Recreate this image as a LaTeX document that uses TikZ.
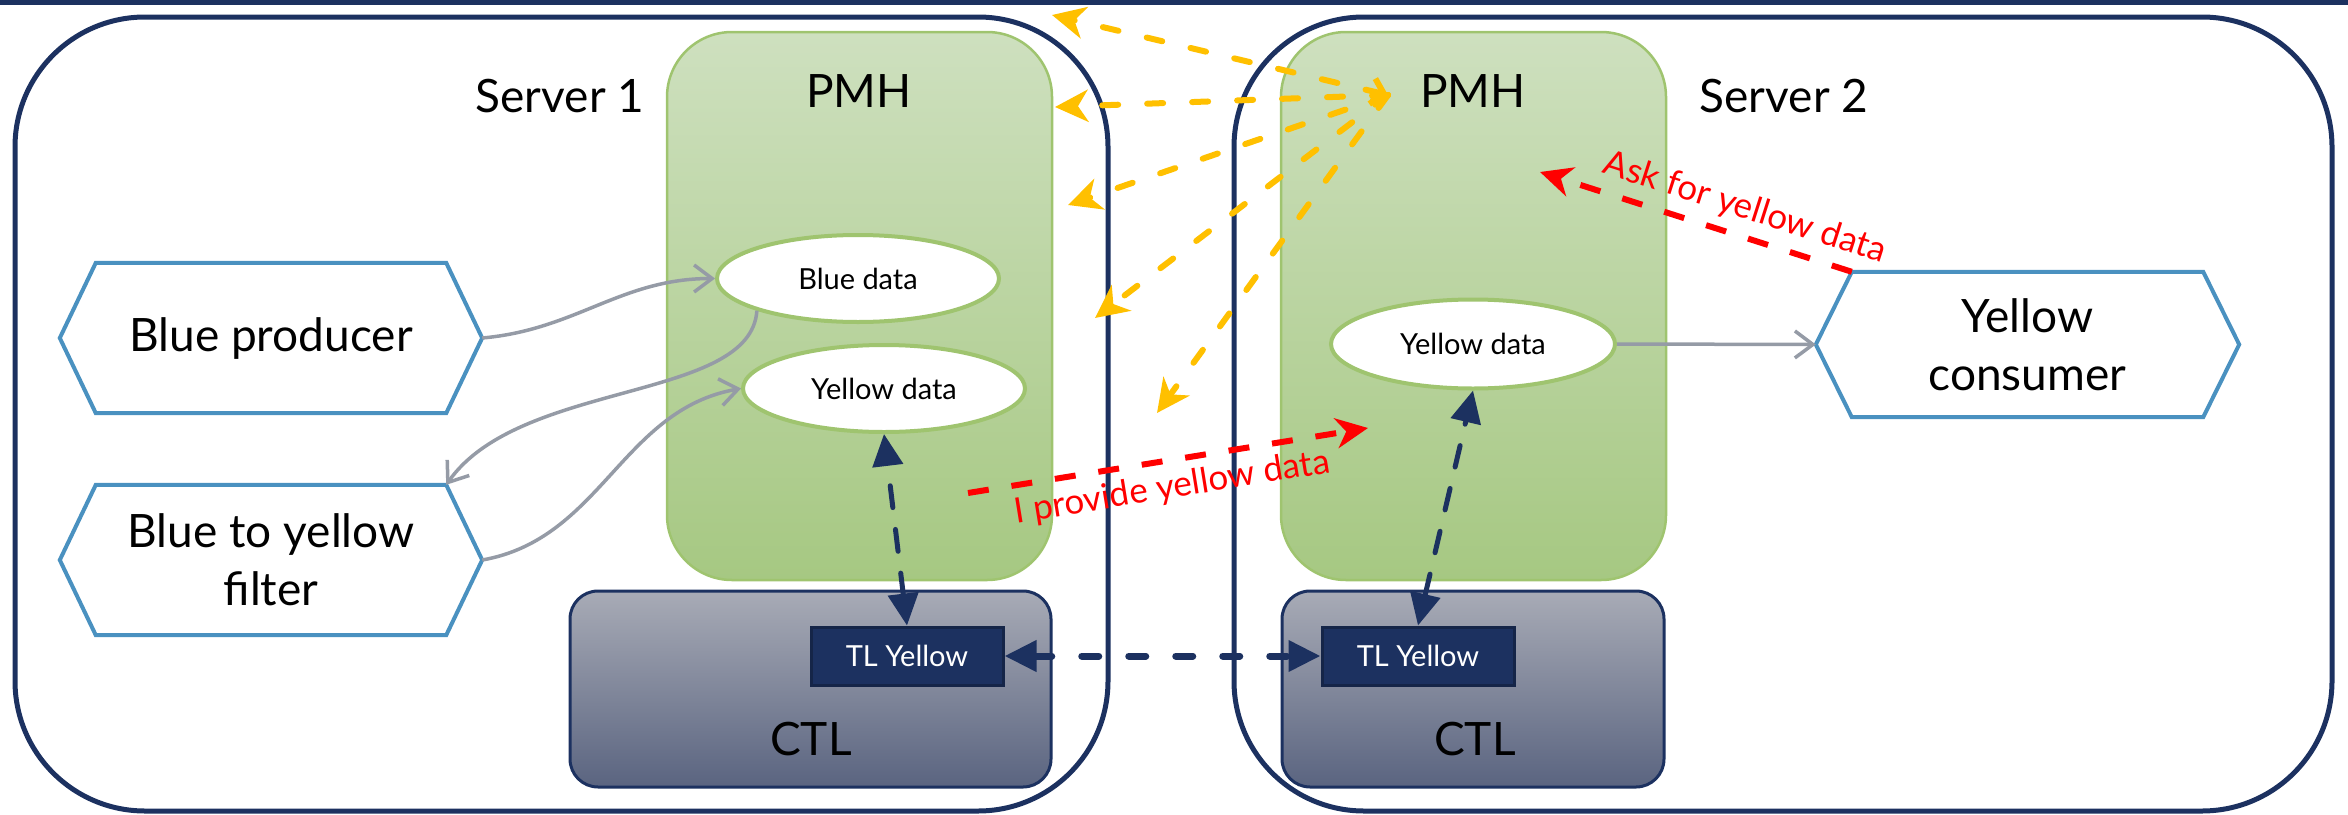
\documentclass[tikz,border=0pt]{standalone}
\usepackage{fontspec}
\setmainfont{Lato}
\usepackage{tikz}
\usetikzlibrary{arrows.meta,shapes.geometric,positioning}

\definecolor{srvnavy}{HTML}{1C3160}
\definecolor{hexblue}{HTML}{4A91C0}
\definecolor{pmhtop}{HTML}{CEE0BF}
\definecolor{pmhbot}{HTML}{A6C882}
\definecolor{pmhline}{HTML}{9FC46F}
\definecolor{ctltop}{HTML}{A8ABB6}
\definecolor{ctlbot}{HTML}{5A6480}
\definecolor{flowgray}{HTML}{959BA6}
\definecolor{fanyellow}{HTML}{FFC000}

\tikzset{
  big/.style={font=\fontsize{46}{58}\selectfont},
  small/.style={font=\fontsize{29}{34}\selectfont},
  redtext/.style={font=\fontsize{35}{42}\selectfont,text=red,inner sep=9pt},
  server/.style={draw=srvnavy,line width=5pt,rounded corners=130pt},
  pmh/.style={draw=pmhline,line width=2.5pt,rounded corners=65pt,top color=pmhtop,bottom color=pmhbot,
    minimum width=385pt,minimum height=548pt},
  ctl/.style={draw=srvnavy,line width=3pt,rounded corners=28pt,top color=ctltop,bottom color=ctlbot,
    minimum height=196pt},
  data/.style={ellipse,draw=pmhline,line width=4pt,fill=white,inner sep=0pt,
    minimum width=282pt,minimum height=87pt,small},
  tl/.style={draw=srvnavy!75!black,line width=3pt,fill=srvnavy,text=white,
    minimum width=192pt,minimum height=58pt,inner sep=0pt,small},
  hex/.style={minimum width=422pt,minimum height=150pt,inner sep=0pt,align=center,big},
  hexline/.style={draw=hexblue,line width=4pt},
  flow/.style={flowgray,line width=3.5pt,-{Straight Barb[length=18pt,width=27pt]}},
  fan/.style={fanyellow,line width=6pt,line cap=round,dash pattern=on 16pt off 29pt},
  note/.style={red,line width=6pt,dash pattern=on 21pt off 23pt,-{Stealth[length=32pt,width=30pt,inset=10pt]}},
  link/.style={srvnavy,line width=5pt,line cap=round,
    {Triangle[length=32pt,width=30pt]}-{Triangle[length=32pt,width=30pt]}},
}

\begin{document}
\begin{tikzpicture}[x=1pt,y=-1pt]
  \useasboundingbox (0,0) rectangle (2348,814);
  \fill[srvnavy] (0,0) rectangle (2348,5);

  % servers
  \node[server,minimum width=1093pt,minimum height=794pt] (srv1) at (561.5,414) {};
  \node[server,minimum width=1098pt,minimum height=794pt] (srv2) at (1783,414) {};
  \node[big] (srv1lbl) at (560,96) {Server 1};
  \node[big] (srv2lbl) at (1784,96) {Server 2};

  % PMH and CTL
  \node[pmh] (pmh1) at (859.5,306) {};
  \node[pmh] (pmh2) at (1473.5,306) {};
  \node[big] (pmh1lbl) at (859,91) {PMH};
  \node[big] (pmh2lbl) at (1473,91) {PMH};
  \node[ctl,minimum width=481pt] (ctl1) at (810.5,689) {};
  \node[ctl,minimum width=382pt] (ctl2) at (1473,689) {};
  \node[big] (ctl1lbl) at (811,739) {CTL};
  \node[big] (ctl2lbl) at (1475,739) {CTL};

  \node[data] (bd) at (858,278.5) {Blue data};
  \node[data] (yd1) at (884,388.5) {Yellow data};
  \node[data,minimum width=284pt,minimum height=89pt] (yd2) at (1473,344) {Yellow data};
  \node[tl] (tl1) at (907,656) {TL Yellow};
  \node[tl] (tl2) at (1418,656) {TL Yellow};

  % components
  \node[hex] (prod) at (271,338) {Blue producer};
  \node[hex] (filt) at (271,560) {Blue to yellow\\filter};
  \node[hex,minimum width=423pt,minimum height=145pt] (cons) at (2027.5,344.5) {Yellow\\consumer};
  \foreach \h in {prod,filt,cons}
    \draw[hexline] (\h.west) -- ([xshift=36pt]\h.north west) -- ([xshift=-36pt]\h.north east)
      -- (\h.east) -- ([xshift=-36pt]\h.south east) -- ([xshift=36pt]\h.south west) -- cycle;

  % data flow
  \draw[flow] (prod.east) to[out=5,in=180] (bd.west);
  \draw[flow] (bd.south west) .. controls +(-6,91) and +(74,-105) .. ([xshift=-36pt]filt.north east);
  \draw[flow] (filt.east) to[out=10,in=190] (yd1.west);
  \draw[flow] (yd2.east) -- (cons.west);

  % announcements
  \coordinate (fan) at (1388,95);
  \coordinate (t1) at (1052,15);
  \coordinate (t2) at (1055,107);
  \coordinate (t3) at (1068,205);
  \coordinate (t4) at (1095,318);
  \coordinate (t5) at (1157,413);
  \draw[fan,{Straight Barb[length=12pt,width=26pt]}-{Stealth[length=33pt,width=32pt,inset=10pt]}] (fan) -- (t1);
  \foreach \t in {t2,t3,t4,t5}
    \draw[fan,-{Stealth[length=33pt,width=32pt,inset=10pt]}] (fan) -- (\t);

  \coordinate (prov) at (968,493);
  \coordinate (provtip) at (1368,428);
  \coordinate (asktip) at (1540,172);
  \draw[note] (prov) -- node[midway,below,sloped,redtext] {I provide yellow data} (provtip);
  \draw[note] ([xshift=36pt]cons.north west) -- node[pos=0.37,above,sloped,redtext] {Ask for yellow data} (asktip);

  % transport links
  \draw[link,dash pattern=on 22pt off 22pt] (tl1.north) -- (yd1.south);
  \draw[link,dash pattern=on 22pt off 22pt] (tl2.north) -- (yd2.south);
  \draw[link,line width=7pt,dash pattern=on 17pt off 30pt] (tl1.east) -- (tl2.west);
\end{tikzpicture}
\end{document}
